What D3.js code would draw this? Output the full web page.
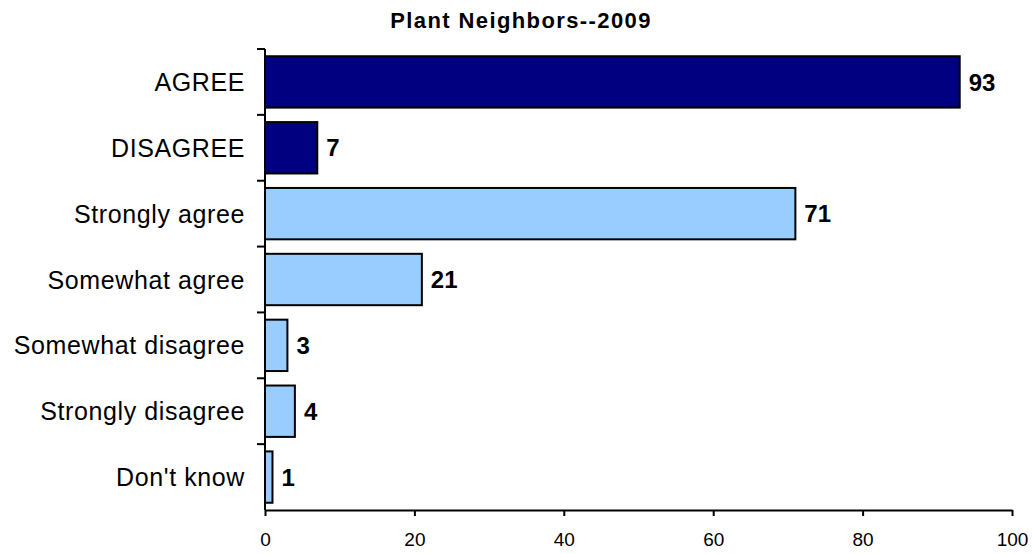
<!DOCTYPE html>
<html><head><meta charset="utf-8">
<script src="https://cdn.jsdelivr.net/npm/d3@7"></script>
<style>
body{margin:0;background:#fff;}
text{font-family:Arial,"Liberation Sans",sans-serif;}
</style></head>
<body><svg id="c" width="1032" height="554"></svg>
<script>
const categories = ["AGREE","DISAGREE","Strongly agree","Somewhat agree","Somewhat disagree","Strongly disagree","Don't know"];
const values = [93,7,71,21,3,4,1];
const groups = ["summary","summary","detail","detail","detail","detail","detail"];
const xTicks = [0,20,40,60,80,100];
const title = "Plant Neighbors--2009";

const svg = d3.select("#c");
const x = d3.scaleLinear().domain([0,100]).range([265,1012]);
const y = d3.scaleBand().domain(categories).range([49,510]).paddingInner(0.22).paddingOuter(0.11);
const color = d3.scaleOrdinal().domain(["summary","detail"]).range(["#000080","#99CCFF"]);

svg.append("text").attr("x",521).attr("y",28).attr("text-anchor","middle")
  .attr("font-size",22).attr("font-weight","bold").attr("letter-spacing",1.4).text(title);

const data = categories.map((c,i)=>({c, v:values[i], g:groups[i]}));

svg.selectAll("rect.bar").data(data).join("rect").attr("class","bar")
  .attr("x",x(0)).attr("y",d=>y(d.c)).attr("width",d=>x(d.v)-x(0)).attr("height",y.bandwidth())
  .attr("fill",d=>color(d.g)).attr("stroke","#000").attr("stroke-width",2);

svg.selectAll("text.val").data(data).join("text").attr("class","val")
  .attr("x",d=>x(d.v)+9).attr("y",d=>y(d.c)+y.bandwidth()/2).attr("dy","0.36em")
  .attr("font-size",24).attr("font-weight","bold").text(d=>d.v);

// y axis
const yStep = y.step();
const yAxisG = svg.append("g");
yAxisG.append("line").attr("x1",x(0)).attr("x2",x(0)).attr("y1",49).attr("y2",510).attr("stroke","#000").attr("stroke-width",2);
const bounds = d3.range(categories.length).map(i=>49+i*yStep);
yAxisG.selectAll("line.t").data(bounds).join("line").attr("class","t")
  .attr("x1",x(0)-8).attr("x2",x(0)).attr("y1",d=>d).attr("y2",d=>d).attr("stroke","#000").attr("stroke-width",2);
yAxisG.selectAll("text").data(categories).join("text")
  .attr("x",245).attr("y",d=>y(d)+y.bandwidth()/2).attr("dy","0.36em").attr("text-anchor","end")
  .attr("font-size",25).attr("letter-spacing",0.6).text(d=>d);

// x axis
const xAxis = d3.axisBottom(x).tickValues(xTicks).tickSize(6).tickSizeOuter(0);
const xg = svg.append("g").attr("transform","translate(0,510)").call(xAxis);
xg.select(".domain").attr("stroke","#000").attr("stroke-width",2);
xg.selectAll(".tick line").attr("stroke","#000").attr("stroke-width",2);
xg.selectAll(".tick text").attr("font-size",19).attr("font-family","Arial, 'Liberation Sans', sans-serif").attr("fill","#000").attr("y",23).attr("dy","0.71em");
</script></body></html>
